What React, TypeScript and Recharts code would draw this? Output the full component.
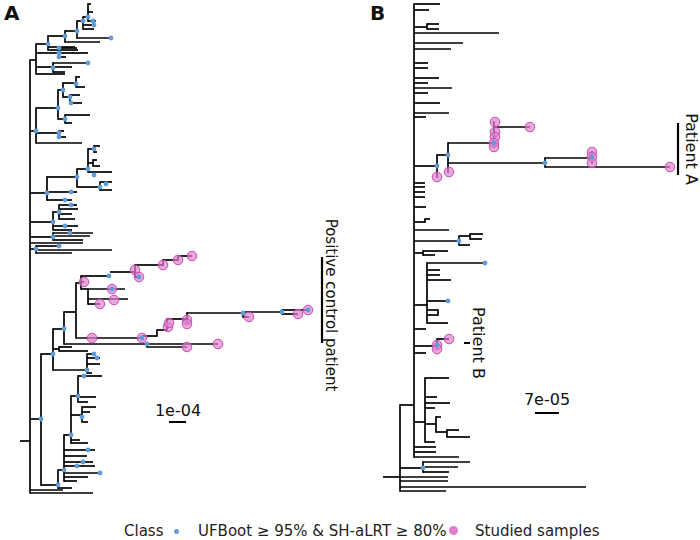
import { ComposedChart, XAxis, YAxis, Scatter, ReferenceLine } from "recharts";

type Seg = [number, number, number];
type Pt = [number, number];

const W = 700;
const H = 540;
const BLUE = "#5f9dd6";
const PINK = "#e07fd0";
const FONT = "'DejaVu Sans', sans-serif";

// ---- panel A: horizontal branches [xFrom, xTo, y] ----
const aBranchH: Seg[] = [
  [20, 30, 441], [30, 63, 490], [30, 93, 493],
  // top clade
  [30, 36, 60], [36, 48, 44], [48, 65, 36], [65, 100, 42], [65, 77, 31], [77, 111, 38],
  [77, 83, 21], [83, 88, 17], [88, 91, 4], [88, 93, 12], [88, 96, 21], [83, 96, 25], [83, 94, 29],
  [48, 75, 47], [48, 78, 50], [36, 59, 53], [59, 77, 48], [59, 88, 53], [59, 66, 57],
  [36, 53, 67], [53, 88, 63], [53, 72, 67], [53, 65, 72], [36, 65, 74],
  // second clade
  [30, 36, 131], [36, 58, 108], [58, 63, 90], [63, 76, 83], [76, 80, 77], [76, 85, 87],
  [63, 70, 97], [70, 80, 95], [70, 82, 103], [58, 65, 119], [65, 90, 115], [65, 72, 123],
  [36, 59, 133], [59, 64, 131], [59, 66, 137], [36, 82, 143],
  // third clade
  [30, 47, 193], [47, 77, 177], [77, 88, 169], [88, 94, 149], [94, 100, 146], [94, 97, 152],
  [88, 93, 163], [93, 97, 160], [93, 100, 166], [88, 112, 172], [77, 100, 187],
  [100, 112, 182], [100, 112, 190], [47, 77, 192], [47, 72, 200],
  // fourth clade
  [30, 53, 222], [53, 59, 212], [59, 77, 205], [59, 78, 209], [59, 72, 214], [59, 75, 219],
  [53, 78, 226], [53, 72, 230], [30, 53, 237], [53, 93, 233], [53, 90, 236], [53, 83, 240],
  [30, 83, 243], [30, 36, 249], [36, 59, 246], [36, 112, 250], [36, 72, 253],
  // positive control clade
  [30, 41, 419], [41, 53, 354], [53, 64, 329], [64, 76, 312], [76, 81, 283], [81, 110, 276],
  [110, 135, 272], [135, 163, 265], [163, 178, 260], [178, 192, 256], [135, 139, 277],
  [81, 84, 282], [81, 88, 289], [88, 125, 289], [88, 128, 299], [88, 100, 304],
  [76, 142, 338], [142, 157, 336], [157, 167, 330], [167, 187, 319], [187, 243, 313],
  [243, 249, 317], [243, 282, 312], [282, 298, 314], [282, 308, 310],
  [64, 147, 344], [147, 218, 344], [147, 187, 347],
  [53, 59, 349], [59, 72, 347], [59, 88, 351],
  [53, 87, 370], [87, 94, 354], [87, 100, 358], [87, 100, 364], [87, 92, 373],
  // lower clade
  [41, 58, 485], [58, 72, 488], [58, 64, 470], [64, 100, 473], [64, 88, 477], [64, 77, 481],
  [64, 95, 466], [64, 93, 462], [64, 87, 456], [64, 95, 450], [64, 71, 435],
  [71, 88, 443], [71, 80, 440], [71, 82, 415], [82, 96, 407], [82, 90, 412], [82, 88, 422],
  [71, 78, 396], [78, 88, 402], [78, 96, 397], [78, 102, 376],
];

// ---- panel A: vertical branches [x, yFrom, yTo] ----
const aBranchV: Seg[] = [
  [30, 60, 493],
  [36, 44, 74], [48, 36, 50], [65, 31, 42], [77, 21, 38], [83, 17, 29], [88, 4, 21],
  [59, 48, 57], [53, 63, 72],
  [36, 108, 143], [58, 90, 119], [63, 83, 97], [76, 77, 87], [70, 95, 103], [65, 115, 123], [59, 131, 137],
  [47, 177, 200], [77, 169, 187], [88, 149, 172], [94, 146, 152], [93, 160, 166], [100, 182, 190],
  [53, 212, 230], [59, 205, 219], [53, 233, 240], [36, 246, 253],
  [41, 354, 485], [53, 329, 370], [64, 312, 344], [76, 283, 338], [81, 276, 289], [88, 289, 304],
  [135, 265, 277], [163, 260, 265], [178, 256, 260],
  [157, 330, 336], [167, 319, 330], [187, 313, 323], [243, 312, 317], [282, 310, 314], [147, 344, 347],
  [59, 347, 351], [87, 354, 373],
  [58, 470, 488], [64, 435, 481], [71, 396, 443], [82, 407, 422], [78, 376, 402],
];

// UFBoot >= 95% & SH-aLRT >= 80% nodes
const aBoot: Pt[] = [
  [48, 44], [65, 36], [77, 31], [83, 21], [88, 17], [93, 21], [94, 25], [111, 38],
  [59, 48], [59, 53], [59, 57], [53, 68], [88, 63],
  [36, 131], [58, 108], [63, 90], [76, 84], [70, 97], [71, 103], [65, 119], [59, 133], [59, 137],
  [47, 193], [77, 177], [88, 169], [94, 149], [94, 175], [100, 187], [106, 184], [71, 192], [65, 200],
  [53, 222], [59, 212], [71, 205], [65, 226], [53, 237], [70, 233], [36, 249], [59, 246],
  [41, 419], [53, 354], [64, 329], [109, 276], [139, 277], [112, 289], [142, 338],
  [243, 313], [282, 312], [308, 310], [147, 344],
  [87, 370], [94, 354], [97, 358],
  [58, 485], [64, 470], [100, 473], [77, 466], [83, 462], [88, 450], [71, 435], [82, 417],
  [78, 396], [84, 376],
];

// studied samples
const aSamples: Pt[] = [
  [84, 282], [135, 270], [139, 277], [163, 265], [178, 260], [192, 256],
  [112, 289], [114, 300], [100, 304],
  [92, 338], [142, 338], [168, 327], [169, 323], [187, 320], [187, 324],
  [249, 317], [298, 314], [308, 310], [218, 344], [187, 347],
];

// ---- panel B ----
const bBranchH: Seg[] = [
  [383, 400, 477], [400, 414, 405],
  [400, 423, 468], [423, 470, 462], [423, 458, 467], [423, 449, 472],
  [400, 448, 477], [400, 448, 481], [400, 586, 487], [400, 446, 491],
  [414, 440, 4], [414, 429, 10], [414, 427, 27], [427, 439, 24], [427, 439, 29],
  [414, 499, 33], [414, 463, 43], [414, 451, 49], [414, 428, 63], [414, 428, 68],
  [414, 439, 78], [414, 428, 83], [414, 452, 88], [414, 428, 93], [414, 440, 103],
  [414, 449, 113], [414, 426, 117],
  // patient A
  [414, 437, 166], [437, 448, 155], [448, 494, 143], [494, 530, 127],
  [448, 545, 163], [545, 592, 158], [545, 670, 167],
  [414, 425, 183], [414, 425, 187], [414, 425, 192], [414, 425, 197], [414, 426, 207],
  [414, 425, 222], [425, 430, 219], [414, 449, 230],
  [414, 459, 241], [459, 470, 236], [470, 483, 234], [470, 482, 239], [459, 470, 245],
  [414, 423, 253], [423, 448, 251], [423, 435, 255],
  [414, 427, 305], [427, 485, 263], [427, 440, 270], [427, 440, 275], [427, 451, 280],
  [427, 448, 301], [427, 438, 310], [427, 438, 315], [427, 448, 323],
  [414, 426, 329],
  // patient B
  [414, 437, 346], [437, 449, 339],
  [414, 426, 353],
  [414, 425, 422], [425, 449, 378], [425, 437, 397], [425, 450, 403], [425, 435, 408],
  [425, 436, 424], [436, 441, 417], [436, 447, 432], [447, 459, 430], [447, 470, 437],
  [425, 435, 442],
  [414, 436, 447], [414, 436, 452], [414, 459, 457],
];

const bBranchV: Seg[] = [
  [400, 405, 491], [414, 4, 457], [423, 462, 472], [427, 24, 29],
  [437, 155, 177], [448, 143, 172], [494, 122, 147], [545, 158, 167], [592, 152, 163],
  [425, 219, 222], [459, 236, 245], [470, 234, 239], [423, 251, 255],
  [427, 263, 323], [438, 310, 315],
  [437, 339, 349],
  [425, 378, 442], [436, 417, 432], [447, 430, 437],
];

const bBoot: Pt[] = [
  [423, 468], [437, 166], [448, 155], [494, 143], [545, 163], [592, 157],
  [459, 241], [485, 263], [448, 301], [437, 345],
];

const bSamples: Pt[] = [
  [437, 177], [449, 172],
  [495, 122], [495, 132], [495, 137], [494, 143], [494, 147], [530, 127],
  [592, 152], [592, 157], [592, 163], [670, 167],
  [449, 339], [437, 345], [437, 349],
];

// clade bars [x, yFrom, yTo] and scale bars [xFrom, xTo, y]
const aCladeBars: Seg[] = [[322, 257, 343]];
const bCladeBars: Seg[] = [[678, 123, 175]];
const bShortBars: Seg[] = [[464, 470, 343]];
const aScaleBar: Seg[] = [[169, 186, 422]];
const bScaleBar: Seg[] = [[535, 559, 413]];

const cladeLabels = [
  { text: "Positive control patient", x: 331, y: 305, size: 15 },
  { text: "Patient A", x: 691, y: 149, size: 16 },
  { text: "Patient B", x: 478, y: 343, size: 16 },
];
const scaleLabels = [
  { text: "1e-04", x: 178, y: 411 },
  { text: "7e-05", x: 547, y: 400 },
];

const toXY = (pts: Pt[]) => pts.map(([x, y]) => ({ x, y }));

const BlueDot = (p: any) => <circle cx={p.cx} cy={p.cy} r={2.4} fill={BLUE} />;
const PinkDot = (p: any) => (
  <circle cx={p.cx} cy={p.cy} r={4.8} fill={PINK} fillOpacity={0.7} stroke="#c94db0" strokeWidth={1} />
);

function TreePanel({ left, width, x0, hs, vs, boot, samples, vBars, hBars }: {
  left: number; width: number; x0: number; hs: Seg[]; vs: Seg[]; boot: Pt[]; samples: Pt[];
  vBars: Seg[]; hBars: Seg[];
}) {
  return (
    <div style={{ position: "absolute", left, top: 0 }}>
      <ComposedChart width={width} height={H} margin={{ top: 0, right: 0, bottom: 0, left: 0 }}>
        <XAxis type="number" dataKey="x" domain={[x0, x0 + width]} allowDataOverflow hide />
        <YAxis type="number" dataKey="y" domain={[0, H]} allowDataOverflow reversed hide />
        {vs.map(([x, ya, yb], i) => (
          <ReferenceLine key={"v" + i} segment={[{ x, y: ya }, { x, y: yb }]} stroke="#000" strokeWidth={1.7} strokeLinecap="square" />
        ))}
        {hs.map(([xa, xb, y], i) => (
          <ReferenceLine key={"h" + i} segment={[{ x: xa, y }, { x: xb, y }]} stroke="#000" strokeWidth={1.7} />
        ))}
        {vBars.map(([x, ya, yb], i) => (
          <ReferenceLine key={"cb" + i} segment={[{ x, y: ya }, { x, y: yb }]} stroke="#000" strokeWidth={2.2} />
        ))}
        {hBars.map(([xa, xb, y], i) => (
          <ReferenceLine key={"sb" + i} segment={[{ x: xa, y }, { x: xb, y }]} stroke="#000" strokeWidth={2} />
        ))}
        <Scatter data={toXY(samples)} shape={PinkDot} isAnimationActive={false} />
        <Scatter data={toXY(boot)} shape={BlueDot} isAnimationActive={false} />
      </ComposedChart>
    </div>
  );
}

export default function App() {
  return (
    <div style={{ position: "relative", width: W, height: H, background: "#fff", fontFamily: FONT, color: "#111" }}>
      <style>{"body{margin:0}"}</style>
      <TreePanel left={0} width={360} x0={0} hs={aBranchH} vs={aBranchV} boot={aBoot} samples={aSamples}
        vBars={aCladeBars} hBars={aScaleBar} />
      <TreePanel left={360} width={340} x0={360} hs={bBranchH} vs={bBranchV} boot={bBoot} samples={bSamples}
        vBars={bCladeBars} hBars={[...bScaleBar, ...bShortBars]} />
      <div style={{ position: "absolute", left: 4, top: 1, fontSize: 20, fontWeight: "bold" }}>A</div>
      <div style={{ position: "absolute", left: 370, top: 1, fontSize: 20, fontWeight: "bold" }}>B</div>
      {cladeLabels.map((l) => (
        <div key={l.text} style={{
          position: "absolute", left: l.x, top: l.y, fontSize: l.size, whiteSpace: "nowrap", lineHeight: "16px",
          transform: "translate(-50%, -50%) rotate(90deg)",
        }}>{l.text}</div>
      ))}
      {scaleLabels.map((l) => (
        <div key={l.text} style={{
          position: "absolute", left: l.x, top: l.y, fontSize: 16, lineHeight: "16px",
          transform: "translate(-50%, -50%)",
        }}>{l.text}</div>
      ))}
      <div style={{ position: "absolute", left: 124, top: 522, fontSize: 15, lineHeight: "18px", whiteSpace: "nowrap", color: "#222" }}>
        <span>Class</span>
        <span style={{ position: "absolute", left: 50, top: 7, width: 5, height: 5, borderRadius: 3, background: BLUE }} />
        <span style={{ position: "absolute", left: 74 }}>UFBoot ≥ 95% &amp; SH-aLRT ≥ 80%</span>
        <span style={{ position: "absolute", left: 325, top: 4, width: 9, height: 9, borderRadius: 5, background: PINK }} />
        <span style={{ position: "absolute", left: 351 }}>Studied samples</span>
      </div>
    </div>
  );
}
